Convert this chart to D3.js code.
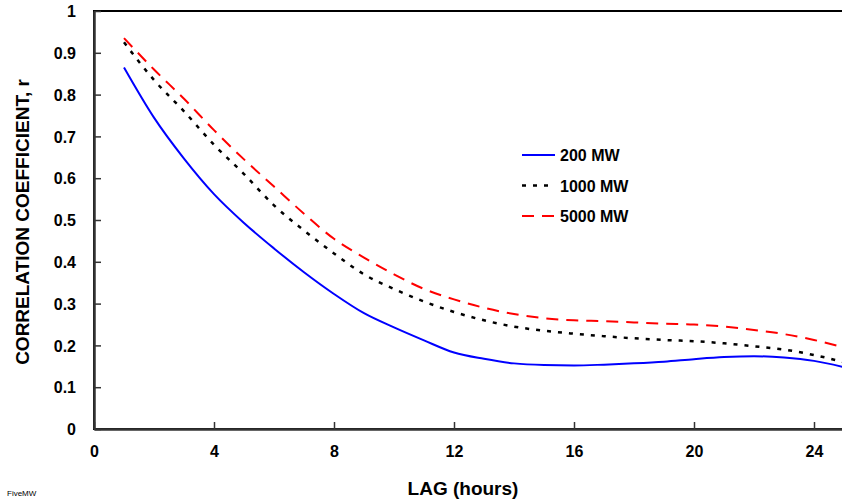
<!DOCTYPE html>
<html>
<head>
<meta charset="utf-8">
<script src="https://cdn.jsdelivr.net/npm/d3@7"></script>
<style>
  body { margin: 0; background: #fff; }
  text { font-family: "Liberation Sans", Arial, sans-serif; font-weight: bold; }
</style>
</head>
<body>
<div id="chart"></div>
<script>
// Chart size
const width = 842;
const height = 501;
const margin = { top: 11, right: 0, bottom: 72, left: 94 };

// Data
const lagHours = [1, 2, 3, 4, 5, 6, 7, 8, 9, 10, 11, 12, 13, 14, 15, 16, 17, 18, 19, 20, 21, 22, 23, 24, 25];
const r200 = [0.865, 0.745, 0.647, 0.562, 0.493, 0.432, 0.375, 0.323, 0.277, 0.243, 0.212, 0.183, 0.168, 0.157, 0.153, 0.152, 0.154, 0.157, 0.161, 0.167, 0.172, 0.174, 0.171, 0.163, 0.148];
const r1000 = [0.925, 0.835, 0.760, 0.680, 0.610, 0.535, 0.475, 0.420, 0.370, 0.335, 0.305, 0.280, 0.260, 0.245, 0.235, 0.228, 0.222, 0.217, 0.213, 0.210, 0.205, 0.198, 0.190, 0.177, 0.160];
const r5000 = [0.935, 0.860, 0.790, 0.715, 0.645, 0.580, 0.515, 0.455, 0.410, 0.370, 0.335, 0.310, 0.290, 0.275, 0.265, 0.260, 0.258, 0.255, 0.252, 0.250, 0.245, 0.237, 0.227, 0.213, 0.195];
const seriesNames = ["200 MW", "1000 MW", "5000 MW"];
const xTicks = [0, 4, 8, 12, 16, 20, 24];
const yTicks = [0, 0.1, 0.2, 0.3, 0.4, 0.5, 0.6, 0.7, 0.8, 0.9, 1];

const series = [
  { name: seriesNames[0], values: r200, color: "#0000ff", dash: null, w: 2 },
  { name: seriesNames[1], values: r1000, color: "#000000", dash: "4,7", w: 2.5 },
  { name: seriesNames[2], values: r5000, color: "#ff0000", dash: "12,8", w: 2 }
];

const svg = d3.select("#chart")
  .append("svg")
  .attr("width", width)
  .attr("height", height);

// Scales: 30 px per hour, x axis runs past the right edge of the window
const x = d3.scaleLinear()
  .domain([0, 25])
  .range([margin.left, margin.left + 750]);

const y = d3.scaleLinear()
  .domain([0, 1])
  .range([height - margin.bottom, margin.top]);

// Frame (top line and right side fall at or beyond the window edge)
svg.append("rect")
  .attr("x", x(0))
  .attr("y", y(1))
  .attr("width", x(25) - x(0))
  .attr("height", y(0) - y(1))
  .attr("fill", "none")
  .attr("stroke", "#000")
  .attr("stroke-width", 2);

// Axes with ticks pointing inward
const xAxis = d3.axisBottom(x)
  .tickValues(xTicks)
  .tickSizeInner(-7)
  .tickSizeOuter(0)
  .tickPadding(17);

const yAxis = d3.axisLeft(y)
  .tickValues(yTicks)
  .tickFormat(d3.format("~g"))
  .tickSizeInner(-7)
  .tickSizeOuter(0)
  .tickPadding(18);

const gx = svg.append("g")
  .attr("transform", `translate(0,${y(0)})`)
  .call(xAxis);

const gy = svg.append("g")
  .attr("transform", `translate(${x(0)},0)`)
  .call(yAxis);

[gx, gy].forEach(g => {
  g.select(".domain").attr("stroke", "#333").attr("stroke-width", 2.5);
  g.selectAll(".tick line").attr("stroke", "#333").attr("stroke-width", 1.5);
  g.selectAll(".tick text")
    .attr("fill", "#000")
    .style("font-size", "16px")
    .style("font-family", "'Liberation Sans', Arial, sans-serif")
    .style("font-weight", "bold");
});
gy.selectAll(".tick text").attr("dy", "0.36em");

// Lines
const line = d3.line()
  .x((d, i) => x(lagHours[i]))
  .y(d => y(d))
  .curve(d3.curveMonotoneX);

const plot = svg.append("g");
series.forEach(s => {
  plot.append("path")
    .datum(s.values)
    .attr("d", line)
    .attr("fill", "none")
    .attr("stroke", s.color)
    .attr("stroke-width", s.w)
    .attr("stroke-dasharray", s.dash);
});

// Legend
const legend = svg.append("g")
  .attr("transform", "translate(522,155)");

series.forEach((s, i) => {
  const row = legend.append("g").attr("transform", `translate(0,${i * 30.5})`);
  row.append("line")
    .attr("x1", 0).attr("x2", 33)
    .attr("y1", 0).attr("y2", 0)
    .attr("stroke", s.color)
    .attr("stroke-width", s.w)
    .attr("stroke-dasharray", s.dash);
  row.append("text")
    .attr("x", 38)
    .attr("y", 6)
    .style("font-size", "16px")
    .text(s.name);
});

// Axis titles
svg.append("text")
  .attr("x", x(12.3))
  .attr("y", 495)
  .attr("text-anchor", "middle")
  .style("font-size", "19px")
  .text("LAG (hours)");

svg.append("text")
  .attr("transform", `translate(29,${(y(0) + y(1)) / 2 + 2}) rotate(-90)`)
  .attr("text-anchor", "middle")
  .style("font-size", "19px")
  .text("CORRELATION COEFFICIENT, r");

// Small source tag in the corner
svg.append("text")
  .attr("x", 7)
  .attr("y", 496)
  .style("font-size", "8px")
  .style("font-weight", "normal")
  .text("FiveMW");
</script>
</body>
</html>
